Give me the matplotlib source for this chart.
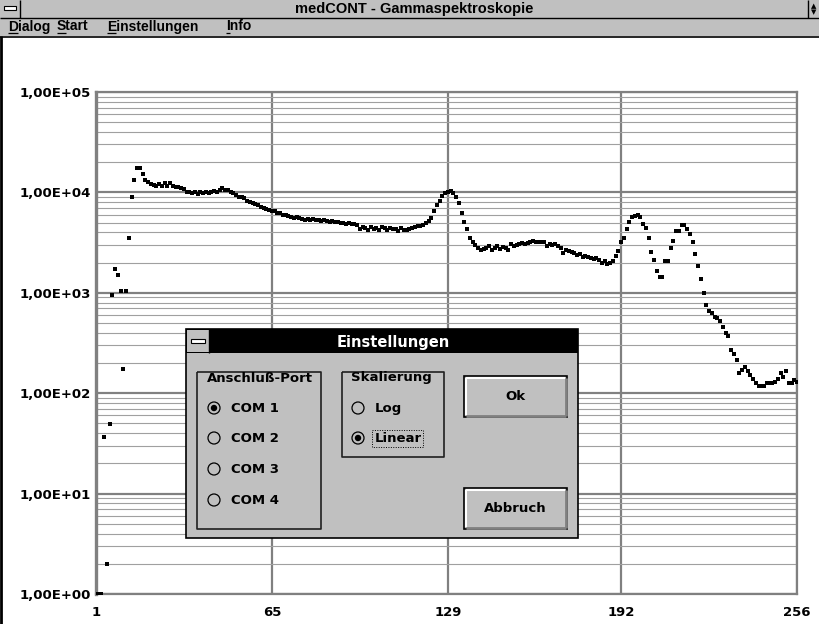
import numpy as np
import matplotlib
matplotlib.use('Agg')
import matplotlib.pyplot as plt
from matplotlib.patches import Rectangle, Circle

# --- data (counts per channel, 256 channels) ---
counts = [
    1, 1, 1, 37, 2, 49, 960, 1720, 1500, 1040,
    174, 1040, 3500, 8950, 13300, 17600, 17600, 15200, 13400, 12800,
    12200, 11800, 11600, 12200, 11500, 12300, 11600, 12400, 11700, 11400,
    11200, 11000, 10900, 10200, 10000, 9800, 10100, 9700, 10000, 9900,
    10200, 9800, 10100, 10300, 10000, 10500, 11000, 10600, 10500, 10000,
    9900, 9500, 9100, 8900, 8700, 8300, 8100, 7900, 7700, 7500,
    7200, 7000, 6900, 6700, 6500, 6600, 6250, 6300, 5950, 6000,
    5800, 5700, 5600, 5650, 5500, 5450, 5300, 5400, 5350, 5400,
    5300, 5350, 5200, 5250, 5150, 5100, 5200, 5050, 5100, 5000,
    4950, 4900, 4950, 4850, 4800, 4700, 4300, 4500, 4400, 4250,
    4500, 4300, 4400, 4250, 4500, 4400, 4250, 4450, 4350, 4300,
    4150, 4400, 4250, 4200, 4350, 4400, 4500, 4600, 4650, 4700,
    5000, 5200, 5600, 6600, 7500, 8300, 9300, 9800, 10100, 10400,
    9800, 9100, 7800, 6300, 5050, 4300, 3550, 3170, 2980, 2820,
    2680, 2700, 2780, 2930, 2680, 2800, 2930, 2700, 2850, 2780,
    2680, 3080, 2950, 3000, 3050, 3100, 3050, 3150, 3200, 3250,
    3200, 3230, 3200, 3170, 2930, 3050, 3000, 3050, 2930, 2780,
    2500, 2650, 2600, 2550, 2480, 2380, 2450, 2280, 2300, 2250,
    2230, 2170, 2200, 2130, 1980, 2050, 1950, 1980, 2080, 2300,
    2600, 3200, 3550, 4350, 5050, 5650, 5850, 5950, 5650, 4800,
    4450, 3500, 2550, 2130, 1660, 1450, 1450, 2080, 2080, 2780,
    3250, 4150, 4150, 4700, 4700, 4300, 3840, 3200, 2420, 1860,
    1370, 990, 760, 665, 625, 580, 560, 525, 460, 400,
    375, 272, 243, 215, 160, 170, 181, 165, 152, 137,
    127, 118, 118, 118, 125, 125, 127, 130, 137, 160,
    146, 166, 127, 127, 135, 130,
]
channels = np.arange(1, len(counts) + 1)

x_ticks = [1, 65, 129, 192, 256]
y_ticks = [1e0, 1e1, 1e2, 1e3, 1e4, 1e5]
y_labels = ['1,00E+00', '1,00E+01', '1,00E+02', '1,00E+03', '1,00E+04', '1,00E+05']

window_title = 'medCONT - Gammaspektroskopie'
menu_items = ['Dialog', 'Start', 'Einstellungen', 'Info']
ports = ['COM 1', 'COM 2', 'COM 3', 'COM 4']
scales = ['Log', 'Linear']

W, H = 819, 624
GREY = '#c0c0c0'
DARK = '#808080'
FONT = 'DejaVu Sans'
MENU_FONT = 'Liberation Sans'

fig = plt.figure(figsize=(W / 100, H / 100), dpi=100)
fig.patch.set_facecolor('white')


def px_axes(l, t, r, b):
    """axes rectangle from pixel box (top-left origin)"""
    return [l / W, 1 - b / H, (r - l) / W, (b - t) / H]


# --- spectrum plot ---
ax = fig.add_axes(px_axes(96, 92, 797, 594), zorder=1)
ax.set_yscale('log')
ax.set_xlim(1, 256)
ax.set_ylim(1, 1e5)
ax.plot(channels, counts, linestyle='none', marker='s', markersize=2.7,
        color='black', markeredgewidth=0, zorder=3)
ax.set_xticks(x_ticks)
ax.set_xticklabels([str(v) for v in x_ticks])
ax.set_yticks(y_ticks)
ax.set_yticklabels(y_labels)
ax.yaxis.set_minor_locator(matplotlib.ticker.LogLocator(base=10, subs=np.arange(2, 10)))
ax.yaxis.set_minor_formatter(matplotlib.ticker.NullFormatter())
ax.grid(True, which='major', axis='both', color=DARK, linewidth=1.6)
ax.grid(True, which='minor', axis='y', color='#a0a0a0', linewidth=0.8)
ax.tick_params(which='both', length=0)
ax.tick_params(axis='y', pad=4)
ax.tick_params(axis='x', pad=9)
for lab in ax.get_xticklabels() + ax.get_yticklabels():
    lab.set_fontweight('bold')
    lab.set_fontsize(9.5)
    lab.set_family(FONT)
for side in ['left', 'right', 'top', 'bottom']:
    ax.spines[side].set_color(DARK)
    ax.spines[side].set_linewidth(1.6)
ax.spines['left'].set_linewidth(2.4)
ax.set_axisbelow(True)

# --- window chrome and dialog, drawn in pixel coordinates ---
ui = fig.add_axes([0, 0, 1, 1], zorder=2)
ui.set_xlim(0, W)
ui.set_ylim(H, 0)
ui.axis('off')
ui.patch.set_alpha(0)


def box(x0, y0, x1, y1, fc, ec='none', lw=0.0, **kw):
    ui.add_patch(Rectangle((x0, y0), x1 - x0, y1 - y0, facecolor=fc,
                           edgecolor=ec, linewidth=lw, **kw))


def line(xs, ys, color='black', lw=1.0, **kw):
    ui.plot(xs, ys, color=color, linewidth=lw, solid_capstyle='butt', **kw)


# title bar
box(0, 0, W, 18, GREY)
line([0, W], [18, 18])
line([20, 20], [0, 18])
box(4, 6, 16, 10, 'white', 'black', 0.8)
line([808, 808], [0, 18])
ui.text(813.5, 6, '\u25b2', fontsize=5, ha='center', va='center', family=FONT)
ui.text(813.5, 12, '\u25bc', fontsize=5, ha='center', va='center', family=FONT)
ui.text(414, 9, window_title, fontsize=10.5, fontweight='bold', ha='center',
        va='center', family=MENU_FONT)

# menu bar
box(0, 18, W, 36, GREY)
line([0, W], [36.5, 36.5], lw=1.2)
menu_x = [8, 57, 107, 226]
first_w = [10, 9.2, 9.2, 3.9]
for mx, fw, name in zip(menu_x, first_w, menu_items):
    ui.text(mx, 26.5, name, fontsize=10, fontweight='bold', ha='left',
            va='center', family=MENU_FONT)
    line([mx, mx + fw], [32.8, 32.8], lw=0.9)
line([1, 1], [36, H], lw=2)

# dialog "Einstellungen"
dx0, dy0, dx1, dy1 = 186, 329, 578, 538
box(dx0, dy0, dx1, dy1, GREY, 'black', 1.2)
box(dx0, dy0, dx1, 353, 'black')
box(dx0 + 1, dy0 + 1, 209, 352, GREY)
line([209, 209], [dy0, 353])
box(191, 339, 205, 343, 'white', 'black', 0.8)
ui.text(393, 342, 'Einstellungen', color='white', fontsize=10.5,
        fontweight='bold', ha='center', va='center', family=FONT)


def group(x0, y0, x1, y1, label, lx0, lx1):
    line([x0, x0, x1, x1, x0], [y0, y1, y1, y0, y0], color='#202020', lw=1.2)
    box(lx0, y0 - 3, lx1, y0 + 3, GREY)
    ui.text((lx0 + lx1) / 2, y0 + 6, label, fontsize=9.5, fontweight='bold',
            ha='center', va='center', family=FONT)


def radio(cx, cy, text, checked):
    ui.add_patch(Circle((cx, cy), 6, facecolor=GREY, edgecolor='black',
                        linewidth=0.9))
    if checked:
        ui.add_patch(Circle((cx, cy), 3.2, facecolor='black'))
    ui.text(cx + 17, cy + 0.5, text, fontsize=9.5, fontweight='bold',
            ha='left', va='center', family=FONT)


def button(x0, y0, x1, y1, text):
    box(x0, y0, x1, y1, GREY, 'black', 1.2)
    line([x0 + 1.5, x1 - 2], [y0 + 1.5, y0 + 1.5], color='white', lw=1.5)
    line([x0 + 1.5, x0 + 1.5], [y0 + 1.5, y1 - 2], color='white', lw=1.5)
    line([x0 + 2, x1 - 1.5], [y1 - 1.5, y1 - 1.5], color=DARK, lw=2)
    line([x1 - 1.5, x1 - 1.5], [y0 + 2, y1 - 1.5], color=DARK, lw=2)
    ui.text((x0 + x1) / 2, (y0 + y1) / 2, text, fontsize=9.5,
            fontweight='bold', ha='center', va='center', family=FONT)


group(197, 372, 321, 529, 'Anschlu\u00df-Port', 206, 313)
for i, p in enumerate(ports):
    radio(214, [408, 438, 469, 500][i], p, i == 0)

group(342, 372, 444, 457, 'Skalierung', 350, 433)
for i, s in enumerate(scales):
    radio(358, [408, 438][i], s, i == 1)
# focus rectangle round "Linear"
ui.add_patch(Rectangle((372, 430), 51, 17, facecolor='none', edgecolor='black',
                       linewidth=0.7, linestyle=(0, (1, 1.5))))

button(464, 376, 567, 417, 'Ok')
button(464, 488, 567, 529, 'Abbruch')

fig.savefig('out.png', dpi=100, facecolor=fig.get_facecolor())
